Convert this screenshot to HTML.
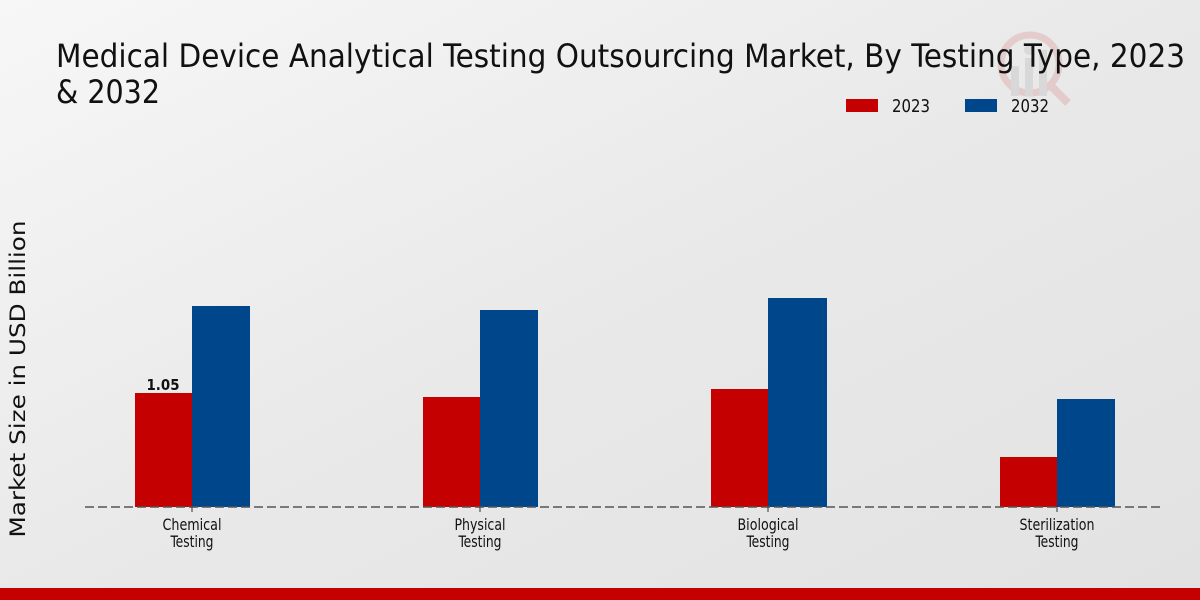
<!DOCTYPE html>
<html>
<head>
<meta charset="utf-8">
<style>
  html, body { margin: 0; padding: 0; width: 1200px; height: 600px; overflow: hidden; }
  svg { display: block; }
  text { font-family: "DejaVu Sans Condensed", "DejaVu Sans", "Liberation Sans", sans-serif; fill: #111; }
</style>
</head>
<body>
<svg width="1200" height="600" viewBox="0 0 1200 600" xmlns="http://www.w3.org/2000/svg">
  <defs>
    <linearGradient id="bg" x1="0" y1="0" x2="1" y2="1">
      <stop offset="0" stop-color="#f7f7f7"/>
      <stop offset="0.5" stop-color="#e9e9e9"/>
      <stop offset="1" stop-color="#e2e2e2"/>
    </linearGradient>
  </defs>
  <rect x="0" y="0" width="1200" height="600" fill="url(#bg)"/>

  <!-- watermark -->
  <g opacity="0.12">
    <circle cx="1030" cy="64" r="29" fill="none" stroke="#c00000" stroke-width="7"/>
    <line x1="1051" y1="86" x2="1068" y2="103" stroke="#c00000" stroke-width="8"/>
    <rect x="1011" y="66" width="8" height="30" fill="#666"/>
    <rect x="1025" y="58" width="8" height="38" fill="#666"/>
    <rect x="1039" y="50" width="8" height="46" fill="#666"/>
    <circle cx="1029" cy="50" r="5" fill="#666"/>
  </g>

  <!-- title -->
  <text x="56" y="67" font-size="32" textLength="1129" lengthAdjust="spacingAndGlyphs">Medical Device Analytical Testing Outsourcing Market, By Testing Type, 2023</text>
  <text x="56" y="103" font-size="32" textLength="104" lengthAdjust="spacingAndGlyphs">&amp; 2032</text>

  <!-- legend -->
  <rect x="846" y="99" width="32" height="13" fill="#c40000"/>
  <text x="892" y="112" font-size="18" textLength="38" lengthAdjust="spacingAndGlyphs">2023</text>
  <rect x="965" y="99" width="32" height="13" fill="#00468b"/>
  <text x="1011" y="112" font-size="18" textLength="38" lengthAdjust="spacingAndGlyphs">2032</text>

  <!-- y axis label -->
  <text transform="translate(25,379) rotate(-90)" text-anchor="middle" font-size="21" style="font-family:'DejaVu Sans','Liberation Sans',sans-serif" textLength="317" lengthAdjust="spacingAndGlyphs">Market Size in USD Billion</text>

  <!-- bars -->
  <rect x="135" y="393" width="57" height="114" fill="#c40000"/>
  <rect x="192" y="306" width="58" height="201" fill="#00468b"/>

  <rect x="423" y="397" width="57" height="110" fill="#c40000"/>
  <rect x="480" y="310" width="58" height="197" fill="#00468b"/>

  <rect x="711" y="389" width="57" height="118" fill="#c40000"/>
  <rect x="768" y="298" width="59" height="209" fill="#00468b"/>

  <rect x="1000" y="457" width="57" height="50" fill="#c40000"/>
  <rect x="1057" y="399" width="58" height="108" fill="#00468b"/>

  <!-- baseline -->
  <line x1="85" y1="507" x2="1163" y2="507" stroke="#555" stroke-width="1.5" stroke-dasharray="9,4"/>

  <!-- ticks -->
  <g stroke="#333" stroke-width="1">
    <line x1="192" y1="507" x2="192" y2="512"/>
    <line x1="480" y1="507" x2="480" y2="512"/>
    <line x1="768" y1="507" x2="768" y2="512"/>
    <line x1="1057" y1="507" x2="1057" y2="512"/>
  </g>

  <!-- value label -->
  <text x="163" y="390" font-size="15" font-weight="bold" text-anchor="middle" style="font-family:'DejaVu Sans','Liberation Sans',sans-serif" textLength="33" lengthAdjust="spacingAndGlyphs">1.05</text>

  <!-- tick labels -->
  <g font-size="16" text-anchor="middle">
    <text x="192" y="530" textLength="59" lengthAdjust="spacingAndGlyphs">Chemical</text>
    <text x="192" y="547" textLength="43" lengthAdjust="spacingAndGlyphs">Testing</text>
    <text x="480" y="530" textLength="51" lengthAdjust="spacingAndGlyphs">Physical</text>
    <text x="480" y="547" textLength="43" lengthAdjust="spacingAndGlyphs">Testing</text>
    <text x="768" y="530" textLength="61" lengthAdjust="spacingAndGlyphs">Biological</text>
    <text x="768" y="547" textLength="43" lengthAdjust="spacingAndGlyphs">Testing</text>
    <text x="1057" y="530" textLength="75" lengthAdjust="spacingAndGlyphs">Sterilization</text>
    <text x="1057" y="547" textLength="43" lengthAdjust="spacingAndGlyphs">Testing</text>
  </g>

  <!-- bottom bar -->
  <rect x="0" y="588" width="1200" height="12" fill="#c40000"/>
</svg>
</body>
</html>
